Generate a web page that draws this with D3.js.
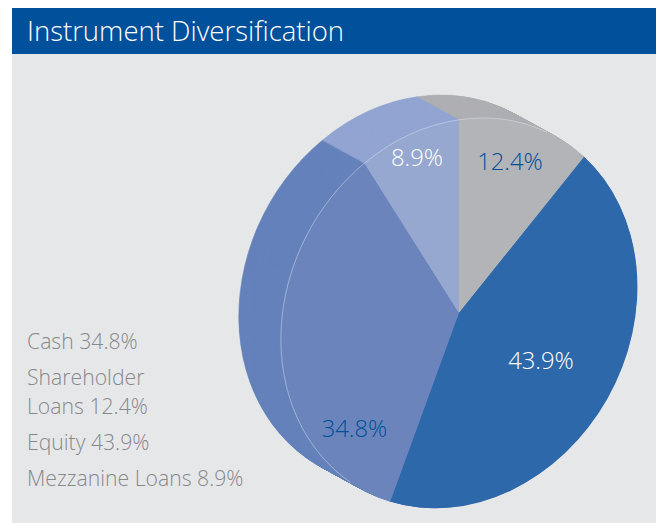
<!DOCTYPE html>
<html>
<head>
<meta charset="utf-8">
<script src="https://cdn.jsdelivr.net/npm/d3@7"></script>
<style>
  html, body { margin: 0; padding: 0; background: #fff; }
  text { font-family: "Open Sans", "Noto Sans", sans-serif; font-weight: 300; }
</style>
</head>
<body>
<div id="chart"></div>
<script>
const title = 'Instrument Diversification';
const categories = ['Shareholder Loans', 'Equity', 'Cash', 'Mezzanine Loans'];
const values = [12.4, 43.9, 34.8, 8.9];
const frontColors = ['#b3b4b8', '#2d68ab', '#6b85bc', '#97a8d0'];
const backColors = ['#aeafb3', '#2d68ab', '#6482bb', '#92a4d1'];
const labelColors = ['#004f9a', '#ffffff', '#004f9a', '#ffffff'];
const legendLines = [
    { text: 'Cash 34.8%', y: 349 },
    { text: 'Shareholder', y: 385 },
    { text: 'Loans 12.4%', y: 414 },
    { text: 'Equity 43.9%', y: 450 },
    { text: 'Mezzanine Loans 8.9%', y: 486 }
];

const width = 657;
const height = 523;

const svg = d3.select('#chart')
    .append('svg')
    .attr('width', width)
    .attr('height', height)
    .style('display', 'block');

// Panel and header
svg.append('rect').attr('x', 12).attr('y', 54).attr('width', 644).attr('height', 469).attr('fill', '#e6e7e9');
svg.append('rect').attr('x', 12).attr('y', 8).attr('width', 644).attr('height', 46).attr('fill', '#00509b');
svg.append('text').attr('x', 27).attr('y', 41).attr('font-size', 27.5).attr('fill', '#fff').text(title);

// Tilted pie: unit circle pushed through a skew so the ellipse lines up with the picture
const tilt = 'matrix(178,-26.3,0,193.2,459,313)';
const pie = d3.pie().sort(null).value(d => d)(values);
const arc = d3.arc().innerRadius(0).outerRadius(1);

// Depth: same pie stacked back along the extrusion direction
const depth = d3.range(48, 0, -1).map(i => i / 48);
depth.forEach(t => {
    svg.append('g')
        .attr('transform', `translate(${-42 * t},${-23 * t}) ${tilt}`)
        .selectAll('path')
        .data(pie)
        .join('path')
        .attr('d', arc)
        .attr('fill', (d, i) => backColors[i])
        .attr('stroke', (d, i) => backColors[i])
        .attr('stroke-width', 0.6)
        .attr('vector-effect', 'non-scaling-stroke');
});

// Front face
svg.append('g')
    .attr('transform', tilt)
    .selectAll('path')
    .data(pie)
    .join('path')
    .attr('d', arc)
    .attr('fill', (d, i) => frontColors[i]);

// Faint rim where the front face sits on the depth, trimmed where it meets the silhouette
const rim = d3.arc().innerRadius(1).outerRadius(1);
const trim = 0.26;
const rimArcs = [
    { startAngle: pie[0].startAngle, endAngle: pie[0].endAngle - trim },
    { startAngle: pie[2].startAngle + trim, endAngle: pie[2].endAngle },
    { startAngle: pie[3].startAngle, endAngle: pie[3].endAngle }
];
svg.append('g')
    .attr('transform', tilt)
    .selectAll('path')
    .data(rimArcs)
    .join('path')
    .attr('d', rim)
    .attr('fill', 'none')
    .attr('stroke', '#e3e6f0')
    .attr('stroke-width', 0.5)
    .attr('stroke-opacity', 0.5)
    .attr('vector-effect', 'non-scaling-stroke');

// Value labels
const labelPos = [[510, 170], [541, 369], [354.5, 437], [417, 166]];
svg.append('g')
    .selectAll('text')
    .data(values)
    .join('text')
    .attr('x', (d, i) => labelPos[i][0])
    .attr('y', (d, i) => labelPos[i][1])
    .attr('text-anchor', 'middle')
    .attr('font-size', 23.8)
    .attr('fill', (d, i) => labelColors[i])
    .text(d => d.toFixed(1) + '%');

// Legend
svg.append('g')
    .selectAll('text')
    .data(legendLines)
    .join('text')
    .attr('x', 27)
    .attr('y', d => d.y)
    .attr('font-size', 21.2)
    .attr('fill', '#86888b')
    .text(d => d.text);
</script>
</body>
</html>
